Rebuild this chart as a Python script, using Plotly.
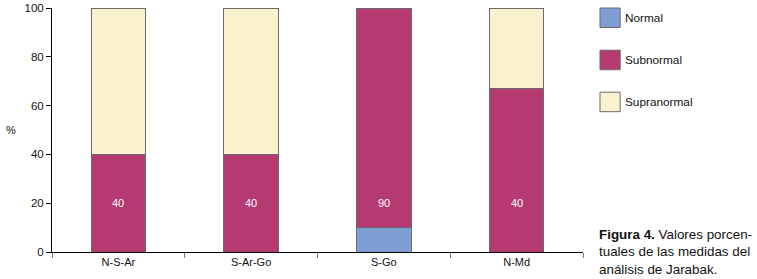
import plotly.graph_objects as go

categories = ["N-S-Ar", "S-Ar-Go", "S-Go", "N-Md"]
normal = [0, 0, 10, 0]
subnormal = [40, 40, 90, 67]
supranormal = [60, 60, 0, 33]
bar_labels = ["40", "40", "90", "40"]
series_names = ["Normal", "Subnormal", "Supranormal"]
colors = ["#7F9FD4", "#B53A72", "#FAF1CF"]

FONT = "Liberation Sans, Arial, sans-serif"

fig = go.Figure()
for name, vals, col in zip(series_names, [normal, subnormal, supranormal], colors):
    fig.add_trace(go.Bar(
        x=categories, y=vals, name=name, width=0.41,
        marker=dict(color=col, line=dict(color="#6b6b6b", width=1)),
        showlegend=False,
    ))

for cat, lab in zip(categories, bar_labels):
    fig.add_annotation(x=cat, y=20, text=lab, showarrow=False,
                       font=dict(color="white", size=11, family=FONT),
                       xref="x", yref="y")

# manual legend
leg_y = [0.96, 0.787, 0.615]
for name, col, yy in zip(series_names, colors, leg_y):
    fig.add_shape(type="rect", xref="paper", yref="paper",
                  x0=1.032, x1=1.07, y0=yy - 0.04, y1=yy + 0.04,
                  fillcolor=col, line=dict(color="#6b6b6b", width=1))
    fig.add_annotation(xref="paper", yref="paper", x=1.076, y=yy, text=name,
                       showarrow=False, xanchor="left", yanchor="middle",
                       font=dict(size=11.8, family=FONT, color="#111"))

fig.add_annotation(xref="paper", yref="paper", x=1.027, y=-0.11,
                   text="<b>Figura 4.</b> Valores porcen-<br>tuales de las medidas del<br>análisis de Jarabak.",
                   showarrow=False, xanchor="left", yanchor="bottom", align="left",
                   font=dict(size=13.4, family=FONT, color="#111"))

fig.add_annotation(xref="paper", yref="paper", x=-0.078, y=0.5, text="%",
                   showarrow=False, xanchor="center", yanchor="middle",
                   font=dict(size=11, family=FONT, color="#111"))

fig.update_layout(
    barmode="stack",
    width=757, height=279,
    margin=dict(l=52, r=174, t=8, b=27),
    plot_bgcolor="white", paper_bgcolor="white",
    font=dict(family=FONT, size=11, color="#111"),
)
fig.update_yaxes(range=[0, 100], dtick=20, showline=True, linecolor="black",
                 linewidth=1, ticks="outside", ticklen=5, tickcolor="black",
                 showgrid=False, zeroline=False, tickfont=dict(size=11.5),
                 automargin=False)
fig.update_xaxes(showline=True, linecolor="black", linewidth=1, ticks="outside",
                 tickson="boundaries", ticklen=5, tickcolor="#777",
                 showgrid=False, tickfont=dict(size=11), automargin=False)

fig.write_html("out.html", config={"displayModeBar": False},
               post_script="document.body.style.margin='0';document.body.style.overflow='hidden';")
